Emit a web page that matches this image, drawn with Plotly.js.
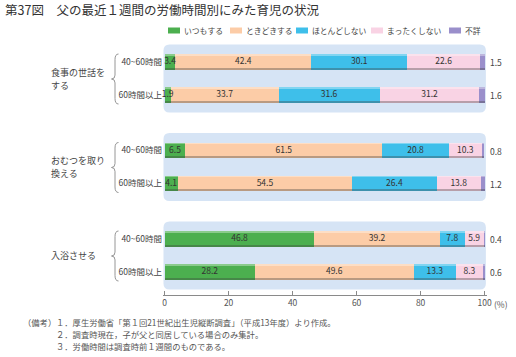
<!DOCTYPE html>
<html>
<head>
<meta charset="utf-8">
<script src="https://cdn.plot.ly/plotly-3.0.1.min.js"></script>
<style>html,body{margin:0;padding:0;background:#fff;}#chart{width:516px;height:357px;}</style>
</head>
<body>
<div id="chart"></div>
<script>
// ---- data ----
const groups = [['食事の世話を', 'する'], ['おむつを取り', '換える'], ['入浴させる']];
const hours = ['40~60時間', '60時間以上'];
const seriesNames = ['いつもする', 'ときどきする', 'ほとんどしない', 'まったくしない', '不詳'];
const itsumo   = [3.4, 1.9, 6.5, 4.1, 46.8, 28.2];
const tokidoki = [42.4, 33.7, 61.5, 54.5, 39.2, 49.6];
const hotondo  = [30.1, 31.6, 20.8, 26.4, 7.8, 13.3];
const mattaku  = [22.6, 31.2, 10.3, 13.8, 5.9, 8.3];
const fusho    = [1.5, 1.6, 0.8, 1.2, 0.4, 0.6];
const xTickVals = [0, 20, 40, 60, 80, 100];
const xTickText = ['0', '20', '40', '60', '80', '100'];
const notes = [
  '１．厚生労働省「第１回21世紀出生児縦断調査」（平成13年度）より作成。',
  '２．調査時現在，子が父と同居している場合のみ集計。',
  '３．労働時間は調査時前１週間のものである。'
];

// ---- styling ----
const colors = ['#4caf4f', '#fccca7', '#3ebfea', '#f9d3e4', '#9a8fcb'];
const FONT = '"Noto Sans CJK JP", "Noto Sans", sans-serif';
const series = [itsumo, tokidoki, hotondo, mattaku, fusho];

// layout geometry helpers
const L = 163, R = 29, T = 43, B = 62, W = 516, H = 357;
const plotW = W - L - R, plotH = H - T - B;
const yRange = [233, -19];
const px2x = px => (px - L) / plotW;
const py2y = py => (H - B - py) / plotH;
const v2py = v => T + (v - yRange[1]) / (yRange[0] - yRange[1]) * plotH;

const nRows = itsumo.length;
const rowPos = [];
const rowLabels = [];
for (let i = 0; i < nRows; i++) {
  const g = Math.floor(i / 2), s = i % 2;
  rowPos.push(g * 88.5 + s * 33);
  rowLabels.push(hours[s]);
}
const BW = 15.5;

const traces = [];
const bases = series.map(() => []);
for (let i = 0; i < nRows; i++) {
  let acc = 0;
  series.forEach((arr, k) => { bases[k].push(acc); acc += arr[i]; });
}
series.forEach((arr, k) => {
  traces.push({
    type: 'bar', orientation: 'h', name: seriesNames[k],
    x: arr, y: rowPos, base: bases[k], width: BW,
    marker: {color: colors[k], line: {width: 0}},
    hoverinfo: 'none', showlegend: false
  });
  // darker bottom edge
  traces.push({
    type: 'bar', orientation: 'h', x: arr, y: rowPos, base: bases[k],
    width: 2, offset: BW / 2 - 2,
    marker: {color: 'rgba(60,60,60,0.35)', line: {width: 0}},
    hoverinfo: 'none', showlegend: false
  });
  // lighter top edge
  traces.push({
    type: 'bar', orientation: 'h', x: arr, y: rowPos, base: bases[k],
    width: 1.5, offset: -BW / 2,
    marker: {color: 'rgba(255,255,255,0.35)', line: {width: 0}},
    hoverinfo: 'none', showlegend: false
  });
});
// value labels drawn on top of all bars (so small ones can overflow)
series.slice(0, 4).forEach((arr, k) => {
  traces.push({
    type: 'scatter', mode: 'text',
    x: arr.map((v, i) => bases[k][i] + v / 2), y: rowPos,
    text: arr.map(v => v.toFixed(1)), textposition: 'middle center',
    textfont: {family: FONT, size: 8.5, color: '#333'},
    cliponaxis: false, hoverinfo: 'none', showlegend: false
  });
});

const shapes = [];
const annotations = [];
// panels
const rx = 6 / (plotW / 101.25), ry = 6;
function rrect(x0, x1, y0, y1) {
  return `M${x0 + rx},${y0} L${x1 - rx},${y0} Q${x1},${y0} ${x1},${y0 + ry} L${x1},${y1 - ry} Q${x1},${y1} ${x1 - rx},${y1} L${x0 + rx},${y1} Q${x0},${y1} ${x0},${y1 - ry} L${x0},${y0 + ry} Q${x0},${y0} ${x0 + rx},${y0} Z`;
}
for (let g = 0; g < groups.length; g++) {
  const a = rowPos[2 * g], b = rowPos[2 * g + 1];
  shapes.push({type: 'path', xref: 'x', yref: 'y', layer: 'below',
    path: rrect(-0.35, 100.4, a - 17.5, b + 17.5),
    fillcolor: '#d6e4f5', line: {width: 0}});
  // brace
  const top = py2y(v2py(a - 8)), bot = py2y(v2py(b + 9)), mid = (top + bot) / 2;
  const xr = px2x(118.5), xs = px2x(115), xt = px2x(111.5);
  const c = 0.022;
  shapes.push({type: 'path', xref: 'paper', yref: 'paper',
    path: `M${xr},${top} Q${xs},${top} ${xs},${top - c} L${xs},${mid + c * 0.7} Q${xs},${mid} ${xt},${mid} Q${xs},${mid} ${xs},${mid - c * 0.7} L${xs},${bot + c} Q${xs},${bot} ${xr},${bot}`,
    line: {color: '#8a8a8a', width: 0.9}});
  const lines = groups[g];
  lines.forEach((ln, j) => {
    annotations.push({xref: 'paper', yref: 'y', x: px2x(49), y: (a + b) / 2,
      yshift: -((j - (lines.length - 1) / 2) * 13),
      xanchor: 'left', yanchor: 'middle', align: 'left', showarrow: false,
      text: ln, font: {family: FONT, size: 9, color: '#444'}});
  });
}
// 不詳 outside labels
for (let i = 0; i < nRows; i++) {
  annotations.push({xref: 'x', yref: 'y', x: 100, y: rowPos[i], xanchor: 'left',
    xshift: 3, showarrow: false, text: fusho[i].toFixed(1),
    font: {family: FONT, size: 8.5, color: '#444'}});
}
// legend
const legX = [168, 230, 296, 371, 449];
seriesNames.forEach((n, k) => {
  shapes.push({type: 'rect', xref: 'paper', yref: 'paper',
    x0: px2x(legX[k]), x1: px2x(legX[k] + 12), y0: py2y(33.5), y1: py2y(27.5),
    fillcolor: colors[k], line: {width: 0}});
  annotations.push({xref: 'paper', yref: 'paper', x: px2x(legX[k] + 13.5), y: py2y(31),
    xanchor: 'left', yanchor: 'middle', showarrow: false, text: n,
    font: {family: FONT, size: 7.8, color: '#444'}});
});
// (%)
annotations.push({xref: 'x', yref: 'paper', x: 100, y: py2y(303.5), xanchor: 'left', xshift: 7,
  yanchor: 'middle', showarrow: false, text: '(%)', font: {family: FONT, size: 8.5, color: '#555'}});
// notes
annotations.push({xref: 'paper', yref: 'paper', x: px2x(21), y: py2y(322), xanchor: 'left',
  yanchor: 'middle', showarrow: false, text: '（備考）', font: {family: FONT, size: 8.3, color: '#555'}});
notes.forEach((t, i) => {
  annotations.push({xref: 'paper', yref: 'paper', x: px2x(54), y: py2y(322 + i * 12), xanchor: 'left',
    yanchor: 'middle', showarrow: false, text: t, font: {family: FONT, size: 8.3, color: '#555'}});
});

const layout = {
  width: W, height: H,
  margin: {l: L, r: R, t: T, b: B, pad: 0},
  paper_bgcolor: '#fff', plot_bgcolor: 'rgba(0,0,0,0)',
  barmode: 'overlay', bargap: 0,
  showlegend: false,
  title: {text: '第37図　父の最近１週間の労働時間別にみた育児の状況',
    x: 5 / W, xanchor: 'left', xref: 'container', y: 1 - 11 / H, yanchor: 'middle', yref: 'container',
    font: {family: FONT, size: 12.5, color: '#333'}},
  xaxis: {range: [-0.5, 100.75], tickvals: xTickVals, ticktext: xTickText,
    showgrid: false, zeroline: false, showline: true, linecolor: '#8a8a8a', linewidth: 1,
    ticks: 'inside', ticklen: 4, tickcolor: '#8a8a8a',
    tickfont: {family: FONT, size: 8.5, color: '#555'}, fixedrange: true},
  yaxis: {range: yRange, tickmode: 'array', tickvals: rowPos, ticktext: rowLabels,
    showgrid: false, zeroline: false, showline: false, ticks: '',
    tickfont: {family: FONT, size: 8.5, color: '#444'}, fixedrange: true},
  shapes: shapes, annotations: annotations, font: {family: FONT}
};
Plotly.newPlot('chart', traces, layout, {staticPlot: true, displayModeBar: false});
</script>
</body>
</html>
